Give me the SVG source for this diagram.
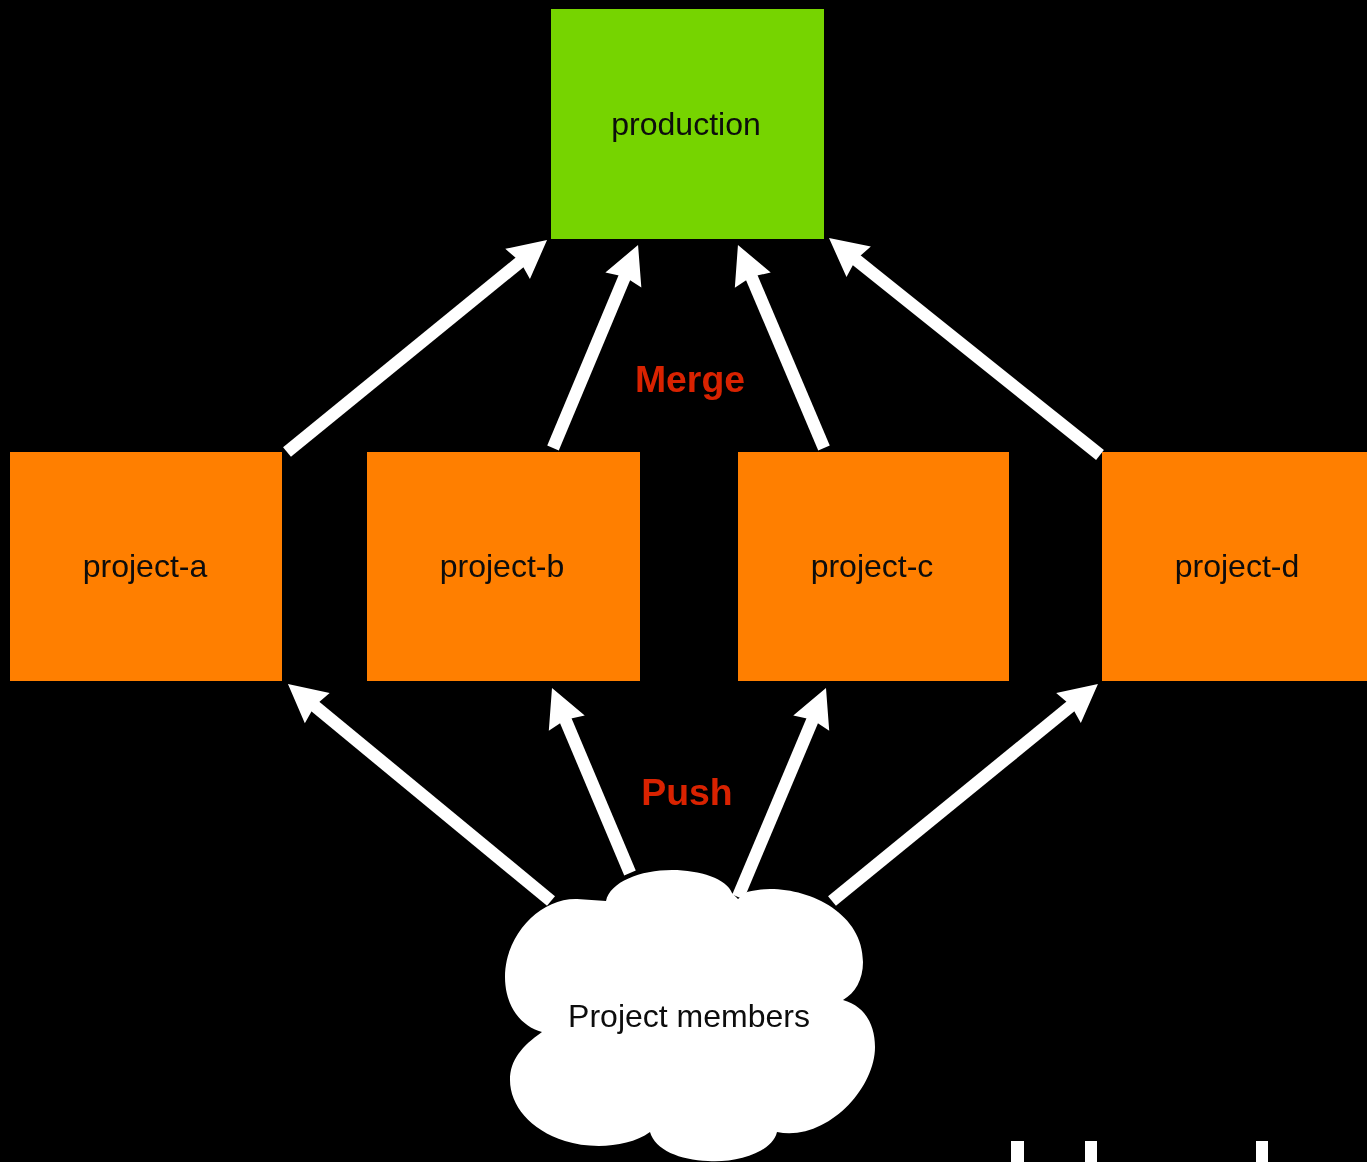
<svg xmlns="http://www.w3.org/2000/svg" width="1367" height="1162" viewBox="0 0 1367 1162">
<style>
.lbl{font-family:"Liberation Sans",Arial,sans-serif;font-size:32px;fill:#0a0a0a;text-anchor:middle}
.tag{font-family:"Liberation Sans",Arial,sans-serif;font-size:37.4px;font-weight:700;fill:#d92300;text-anchor:middle}
.prod{fill:#76d400}
.proj{fill:#ff7f00}
.arr{stroke:#fff;stroke-width:12.5;fill:none;marker-end:url(#head)}
</style>
<defs>
<filter id="soft" x="0" y="0" width="1" height="1"><feGaussianBlur stdDeviation="0.6"/></filter>
<marker id="head" markerUnits="userSpaceOnUse" markerWidth="44" markerHeight="44" viewBox="0 0 44 44" refX="14" refY="22" orient="auto">
<path d="M40,22 L2,2.5 L5.5,22 L2,41.5 Z" fill="#fff"/>
</marker>
</defs>
<rect width="1367" height="1162" fill="#000"/>
<g filter="url(#soft)">
<g id="connectors">
<line class="arr" x1="287" y1="452" x2="526.9" y2="256.4"/>
<line class="arr" x1="553" y1="448" x2="628" y2="269"/>
<line class="arr" x1="824" y1="448" x2="748.1" y2="269"/>
<line class="arr" x1="1100" y1="455" x2="849.3" y2="254.3"/>
<line class="arr" x1="551" y1="901" x2="308" y2="700.5"/>
<line class="arr" x1="630" y1="873" x2="562.1" y2="712"/>
<line class="arr" x1="738" y1="897" x2="815.9" y2="712"/>
<line class="arr" x1="832" y1="901" x2="1077.8" y2="700.4"/>
</g>
<g id="production"><rect class="prod" x="551" y="9" width="273" height="230"/><text class="lbl" x="686" y="135">production</text></g>
<g id="project-a"><rect class="proj" x="10" y="452" width="272" height="229"/><text class="lbl" x="145" y="577">project-a</text></g>
<g id="project-b"><rect class="proj" x="367" y="452" width="273" height="229"/><text class="lbl" x="502" y="577">project-b</text></g>
<g id="project-c"><rect class="proj" x="738" y="452" width="271" height="229"/><text class="lbl" x="872" y="577">project-c</text></g>
<g id="project-d"><rect class="proj" x="1102" y="452" width="265" height="229"/><text class="lbl" x="1237" y="577">project-d</text></g>
<g id="project-members">
<path fill="#fff" d="M606,901 C610,882 640,870 672,870 C700,870 727,879 732,893 L738,899 L747,892 C790,880 863,905 863,962 C863,980 855,993 843,1000 C865,1006 875,1025 875,1047 C875,1090 825,1142 777,1132 C772,1153 735,1163 708,1161 C680,1160 655,1150 650,1132 C628,1148 590,1149 565,1141 C530,1130 510,1105 510,1080 C510,1060 522,1046 542,1032 C520,1026 505,1005 505,977 C505,935 540,898 577,899 Z"/>
<text class="lbl" x="689" y="1027">Project members</text>
</g>
<text class="tag" x="690" y="392">Merge</text>
<text class="tag" x="687" y="805">Push</text>
</g>
<g id="marks" fill="#fff">
<rect x="1011" y="1141" width="13" height="21"/>
<rect x="1085" y="1141" width="12" height="21"/>
<rect x="1256" y="1141" width="12" height="21"/>
</g>
</svg>
